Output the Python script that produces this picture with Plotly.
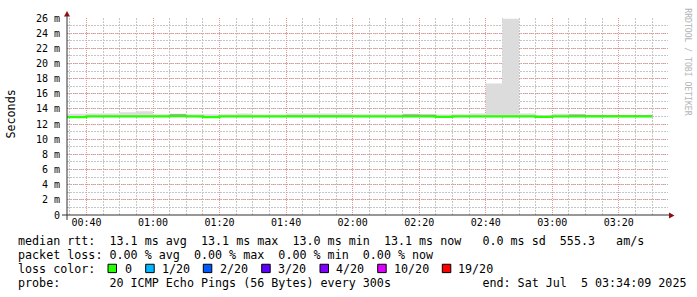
import plotly.graph_objects as go
import pandas as pd

# ---------------- data ----------------
bin_start = list(pd.date_range("2025-07-05 00:30", periods=36, freq="5min"))
bin_end = pd.Timestamp("2025-07-05 03:30")

median_ms = [12.92, 12.92, 13.02, 13.02, 13.02, 13.02, 13.02, 13.05, 13.02, 12.92,
             13.02, 13.02, 13.02, 13.02, 13.02, 13.02, 13.02, 13.02, 13.02, 13.02,
             13.02, 13.02, 13.02, 12.96, 13.02, 13.02, 13.02, 13.02, 13.02, 12.96,
             13.02, 13.02, 13.02, 13.02, 13.02, 13.02]
smoke_lo = [12.86, 12.86, 12.90, 12.90, 12.90, 12.90, 12.90, 12.90, 12.90, 12.86,
            12.90, 12.90, 12.90, 12.90, 12.90, 12.90, 12.90, 12.90, 12.90, 12.90,
            12.90, 12.90, 12.90, 12.86, 12.90, 12.90, 12.90, 12.90, 12.90, 12.86,
            12.90, 12.90, 12.90, 12.90, 12.90, 12.90]
smoke_hi = [13.35, 13.35, 13.40, 13.40, 13.56, 13.70, 13.30, 13.35, 13.30, 13.30,
            13.30, 13.40, 13.26, 13.26, 13.40, 13.40, 13.40, 13.40, 13.30, 13.30,
            13.30, 13.35, 13.30, 13.25, 13.30, 13.40, 17.35, 25.90, 13.40, 13.20,
            13.35, 13.26, 13.20, 13.17, 13.17, 13.17]
dark_lo = [12.92, 12.92, 13.02, 13.02, 13.02, 13.02, 13.02, 13.05, 13.02, 12.92,
           13.02, 13.02, 13.02, 13.02, 13.02, 13.02, 13.02, 13.02, 13.02, 13.02,
           13.02, 13.02, 13.02, 12.88, 13.02, 13.02, 13.02, 13.02, 13.02, 12.88,
           13.02, 13.02, 13.02, 13.02, 13.02, 13.02]
dark_hi = [12.92, 12.92, 13.02, 13.02, 13.02, 13.02, 13.02, 13.30, 13.02, 12.92,
           13.02, 13.02, 13.02, 13.02, 13.14, 13.14, 13.14, 13.14, 13.02, 13.02,
           13.02, 13.28, 13.24, 12.96, 13.02, 13.02, 13.02, 13.02, 13.02, 12.96,
           13.02, 13.25, 13.18, 13.18, 13.18, 13.18]

y_tick_vals = [0, 2, 4, 6, 8, 10, 12, 14, 16, 18, 20, 22, 24, 26]
y_tick_text = ["0", "2 m", "4 m", "6 m", "8 m", "10 m", "12 m", "14 m", "16 m",
               "18 m", "20 m", "22 m", "24 m", "26 m"]

loss_labels = ["0", "1/20", "2/20", "3/20", "4/20", "10/20", "19/20"]
loss_colors = ["#26ff00", "#00b8ff", "#0059ff", "#5e00ff", "#7e00ff", "#dd00ff", "#ff0000"]

line_rtt = "median rtt:  13.1 ms avg  13.1 ms max  13.0 ms min  13.1 ms now   0.0 ms sd  555.3   am/s"
line_loss = "packet loss: 0.00 % avg  0.00 % max  0.00 % min  0.00 % now"
line_probe = "probe:       20 ICMP Echo Pings (56 Bytes) every 300s             end: Sat Jul  5 03:34:09 2025"

# ---------------- geometry helpers ----------------
W, H = 697, 297
L, R, T, B = 67, 29, 15, 82
PW, PH = W - L - R, H - T - B


def px(x):
    return (x - L) / PW


def py(y):
    return (H - B - y) / PH


def nb(s):
    return s.replace(" ", "\u00a0")


MONO = "DejaVu Sans Mono"
MAJ = "#e09898"
MIN = "#c6c6c6"
DOT_MAJ = "1px,1px"
DOT_MIN = "2px,1px"

xs = bin_start + [bin_end]


def step(v):
    return list(v) + [v[-1]]


fig = go.Figure()
fig.add_trace(go.Scatter(x=xs, y=step(smoke_lo), mode="lines", line=dict(width=0, shape="hv"),
                         hoverinfo="skip", showlegend=False))
fig.add_trace(go.Scatter(x=xs, y=step(smoke_hi), mode="lines", line=dict(width=0, shape="hv"),
                         fill="tonexty", fillcolor="#dcdcdc", hoverinfo="skip", showlegend=False))
fig.add_trace(go.Scatter(x=xs, y=step(dark_lo), mode="lines", line=dict(width=0, shape="hv"),
                         hoverinfo="skip", showlegend=False))
fig.add_trace(go.Scatter(x=xs, y=step(dark_hi), mode="lines", line=dict(width=0, shape="hv"),
                         fill="tonexty", fillcolor="#9a9a9a", hoverinfo="skip", showlegend=False))
fig.add_trace(go.Scatter(x=xs, y=step(median_ms), mode="lines",
                         line=dict(width=2.3, shape="hv", color=loss_colors[0]),
                         showlegend=False))

shapes = []
# axes lines
shapes.append(dict(type="line", xref="paper", yref="paper", x0=px(62), x1=px(669), y0=0, y1=0,
                   line=dict(color="#303030", width=1)))
shapes.append(dict(type="line", xref="paper", yref="paper", x0=0, x1=0, y0=py(220), y1=py(10),
                   line=dict(color="#303030", width=1)))
# arrows
shapes.append(dict(type="path", xref="paper", yref="paper",
                   path=f"M {px(64)},{py(13.5)} L {px(70)},{py(13.5)} L {px(67)},{py(8)} Z",
                   fillcolor="#8b1010", line=dict(width=0)))
shapes.append(dict(type="path", xref="paper", yref="paper",
                   path=f"M {px(669)},{py(212.5)} L {px(669)},{py(218.5)} L {px(674.5)},{py(215.5)} Z",
                   fillcolor="#8b1010", line=dict(width=0)))

# legend squares
sq_x = [108, 145.7, 203.3, 261.7, 320, 377.7, 442.3]
lab_x = [122.5, 159.5, 217.5, 275.5, 333.8, 391.5, 456]
for sx, c in zip(sq_x, loss_colors):
    shapes.append(dict(type="rect", xref="paper", yref="paper",
                       x0=px(sx), x1=px(sx + 8.5), y0=py(273.5), y1=py(265),
                       fillcolor=c, line=dict(color="black", width=1)))

F = dict(family=MONO, size=11.7, color="black")
ann = []
ann.append(dict(x=px(16), y=py(241.5), xref="paper", yref="paper", text=nb(line_rtt),
                showarrow=False, xanchor="left", yanchor="middle", font=F))
ann.append(dict(x=px(16), y=py(256), xref="paper", yref="paper", text=nb(line_loss),
                showarrow=False, xanchor="left", yanchor="middle", font=F))
ann.append(dict(x=px(16), y=py(269.5), xref="paper", yref="paper", text=nb("loss color:"),
                showarrow=False, xanchor="left", yanchor="middle", font=F))
for lx, t in zip(lab_x, loss_labels):
    ann.append(dict(x=px(lx), y=py(269.5), xref="paper", yref="paper", text=nb(t),
                    showarrow=False, xanchor="left", yanchor="middle", font=F))
ann.append(dict(x=px(16), y=py(284.5), xref="paper", yref="paper", text=nb(line_probe),
                showarrow=False, xanchor="left", yanchor="middle", font=F))
ann.append(dict(x=px(11), y=py(113), xref="paper", yref="paper", text="Seconds", textangle=-90,
                showarrow=False, xanchor="center", yanchor="middle", font=dict(family=MONO, size=11.7, color="black")))
ann.append(dict(x=px(688), y=py(59), xref="paper", yref="paper", text=nb("RRDTOOL / TOBI OETIKER"), textangle=90,
                showarrow=False, xanchor="center", yanchor="middle", font=dict(family=MONO, size=8.1, color="#b4b4b4")))

fig.update_layout(
    width=W, height=H,
    margin=dict(l=L, r=R, t=T, b=B, pad=0),
    paper_bgcolor="white", plot_bgcolor="white",
    shapes=shapes, annotations=ann,
    xaxis=dict(type="date", range=["2025-07-05 00:34:09", "2025-07-05 03:34:47"],
               tick0="2025-07-05 00:40", dtick=1200000, tickformat="%H:%M",
               showgrid=True, gridcolor=MAJ, griddash=DOT_MAJ, gridwidth=1,
               minor=dict(dtick=300000, tick0="2025-07-05 00:40", showgrid=True,
                          gridcolor=MIN, griddash=DOT_MIN, gridwidth=1),
               showline=False, zeroline=False, ticks="",
               tickfont=dict(family=MONO, size=10, color="black"), fixedrange=True),
    yaxis=dict(range=[0, 26], tickmode="array", tickvals=y_tick_vals, ticktext=y_tick_text,
               showgrid=True, gridcolor=MAJ, griddash=DOT_MAJ, gridwidth=1,
               minor=dict(tickmode="linear", tick0=0, dtick=1, showgrid=True,
                          gridcolor=MIN, griddash=DOT_MIN, gridwidth=1),
               showline=False, zeroline=False, ticks="", ticklabelstandoff=6,
               tickfont=dict(family=MONO, size=10, color="black"), fixedrange=True),
)

fig.write_html("out.html")
